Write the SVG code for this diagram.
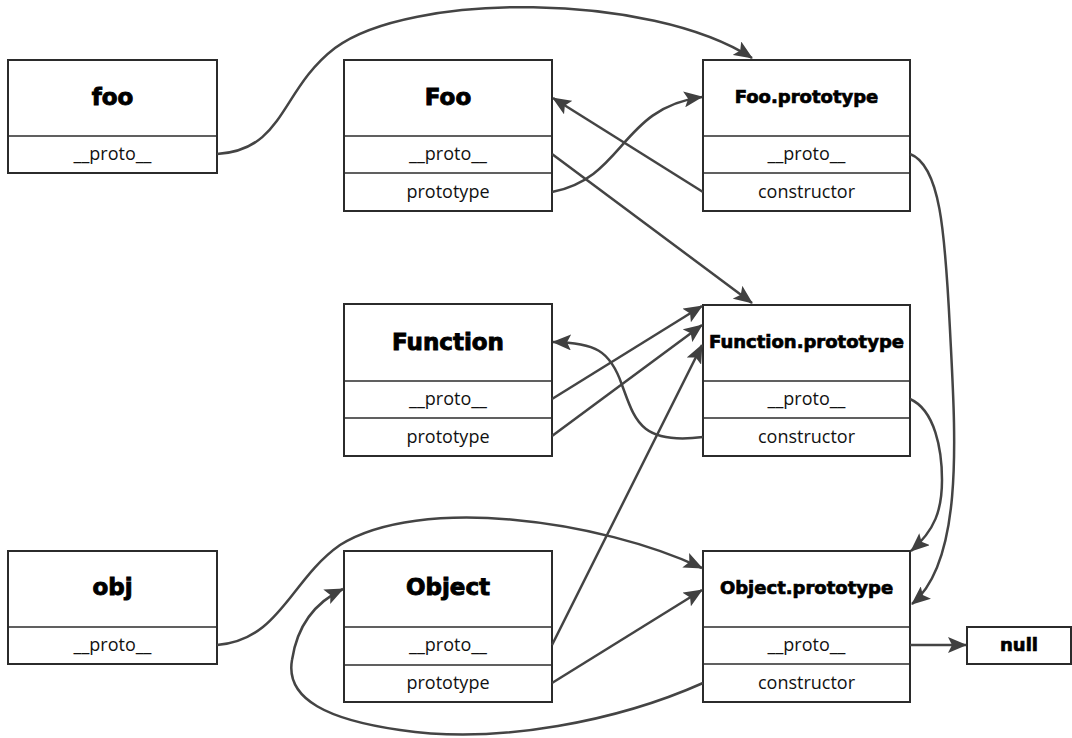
<svg xmlns="http://www.w3.org/2000/svg" width="1072" height="738" viewBox="0 0 1072 738">
<style>
.box{fill:#fff;stroke:#2b2b2b;stroke-width:2}
.div{stroke:#2b2b2b;stroke-width:1.5}
.t{font-family:"DejaVu Sans",sans-serif;font-weight:bold;font-size:23px;text-anchor:middle;fill:#000;stroke:#000;stroke-width:0.9}
.ts{font-family:"DejaVu Sans",sans-serif;font-weight:bold;font-size:18px;text-anchor:middle;fill:#000;stroke:#000;stroke-width:0.7}
.f{font-family:"Open Sans",sans-serif;font-size:18px;text-anchor:middle;fill:#111}
.c{fill:none;stroke:#444;stroke-width:2.5;marker-end:url(#ah)}
</style>
<defs>
<marker id="ah" markerUnits="userSpaceOnUse" markerWidth="20" markerHeight="16" refX="18" refY="8" orient="auto">
<path d="M0,0 L19,8 L0,16 L4,8 z" fill="#404040"/>
</marker>
</defs>
<rect width="1072" height="738" fill="#fff"/>
<g id="foo">
<rect class="box" x="8" y="60" width="209" height="113"/>
<line class="div" x1="8" y1="136" x2="217" y2="136"/>
<text class="t" x="112.5" y="105">foo</text>
<text class="f" x="112.5" y="160">__proto__</text>
</g>
<g id="Foo">
<rect class="box" x="344" y="60" width="208" height="151"/>
<line class="div" x1="344" y1="136" x2="552" y2="136"/>
<line class="div" x1="344" y1="173" x2="552" y2="173"/>
<text class="t" x="448" y="105">Foo</text>
<text class="f" x="448" y="160">__proto__</text>
<text class="f" x="448" y="198">prototype</text>
</g>
<g id="Foo.prototype">
<rect class="box" x="703" y="60" width="207" height="151"/>
<line class="div" x1="703" y1="136" x2="910" y2="136"/>
<line class="div" x1="703" y1="173" x2="910" y2="173"/>
<text class="ts" x="806.5" y="103">Foo.prototype</text>
<text class="f" x="806.5" y="160">__proto__</text>
<text class="f" x="806.5" y="198">constructor</text>
</g>
<g id="Function">
<rect class="box" x="344" y="304" width="208" height="152"/>
<line class="div" x1="344" y1="381" x2="552" y2="381"/>
<line class="div" x1="344" y1="418" x2="552" y2="418"/>
<text class="t" x="448" y="350">Function</text>
<text class="f" x="448" y="405">__proto__</text>
<text class="f" x="448" y="443">prototype</text>
</g>
<g id="Function.prototype">
<rect class="box" x="703" y="305" width="207" height="151"/>
<line class="div" x1="703" y1="381" x2="910" y2="381"/>
<line class="div" x1="703" y1="418" x2="910" y2="418"/>
<text class="ts" x="806.5" y="348">Function.prototype</text>
<text class="f" x="806.5" y="405">__proto__</text>
<text class="f" x="806.5" y="443">constructor</text>
</g>
<g id="obj">
<rect class="box" x="8" y="551" width="209" height="113"/>
<line class="div" x1="8" y1="627" x2="217" y2="627"/>
<text class="t" x="112.5" y="595">obj</text>
<text class="f" x="112.5" y="651">__proto__</text>
</g>
<g id="Object">
<rect class="box" x="344" y="551" width="208" height="151"/>
<line class="div" x1="344" y1="627" x2="552" y2="627"/>
<line class="div" x1="344" y1="665" x2="552" y2="665"/>
<text class="t" x="448" y="595">Object</text>
<text class="f" x="448" y="651">__proto__</text>
<text class="f" x="448" y="689">prototype</text>
</g>
<g id="Object.prototype">
<rect class="box" x="703" y="551" width="207" height="151"/>
<line class="div" x1="703" y1="627" x2="910" y2="627"/>
<line class="div" x1="703" y1="664" x2="910" y2="664"/>
<text class="ts" x="806.5" y="594">Object.prototype</text>
<text class="f" x="806.5" y="651">__proto__</text>
<text class="f" x="806.5" y="689">constructor</text>
</g>
<g id="null">
<rect class="box" x="967" y="627" width="104" height="37"/>
<text class="ts" x="1019" y="651">null</text>
</g>
<g id="connectors">
<path class="c" d="M217,154 C285,150 280,90 335,48 C410,-8 650,-8 752,58"/>
<path class="c" d="M703,192 L553,98"/>
<path class="c" d="M552,192 C625,178 620,108 702,97"/>
<path class="c" d="M552,154 L752,303"/>
<path class="c" d="M910,154 C940,165 945,230 950,330 C955,430 965,560 912,604"/>
<path class="c" d="M552,399 L702,306"/>
<path class="c" d="M552,436 L702,325"/>
<path class="c" d="M552,645 L702,345"/>
<path class="c" d="M703,437 C640,445 635,420 622,385 C610,350 595,343 553,342"/>
<path class="c" d="M910,399 C935,410 942,450 942,480 C942,510 935,530 911,551"/>
<path class="c" d="M217,645 C280,640 290,580 340,545 C420,495 600,520 702,568"/>
<path class="c" d="M703,683 C620,720 500,745 400,730 C330,720 285,700 292,660 C298,620 320,600 343,589"/>
<path class="c" d="M552,683 L702,590"/>
<path class="c" d="M910,645 L966,645"/>
</g>
</svg>
